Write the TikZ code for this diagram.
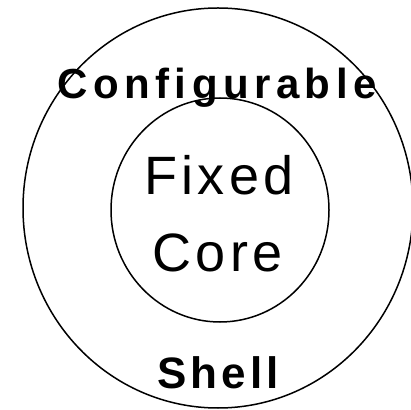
\documentclass[tikz,border=0pt]{standalone}
\usepackage{fontspec}
\setmainfont{Liberation Sans}
\begin{document}
\begin{tikzpicture}[x=1pt,y=1pt,
  ring/.style={line width=1.5pt,draw=black},
  label/.style={inner sep=0pt,anchor=base}]
  \useasboundingbox (0,0) rectangle (411,409);
  % outer shell and inner core
  \draw[ring] (218,201) ellipse [x radius=195, y radius=200];
  \draw[ring] (220,199) ellipse [x radius=109, y radius=112];
  % labels
  \node[label,font=\fontsize{42}{48}\selectfont\bfseries\addfontfeature{LetterSpace=13}] (conf) at (217,310) {Configurable};
  \node[label,font=\fontsize{54}{60}\selectfont\addfontfeature{LetterSpace=8}] (fixed) at (219,214) {Fixed};
  \node[label,font=\fontsize{54}{60}\selectfont\addfontfeature{LetterSpace=8}] (core) at (217.5,137) {Core};
  \node[label,font=\fontsize{44}{50}\selectfont\bfseries\addfontfeature{LetterSpace=9}] (shell) at (218,21) {Shell};
\end{tikzpicture}
\end{document}
